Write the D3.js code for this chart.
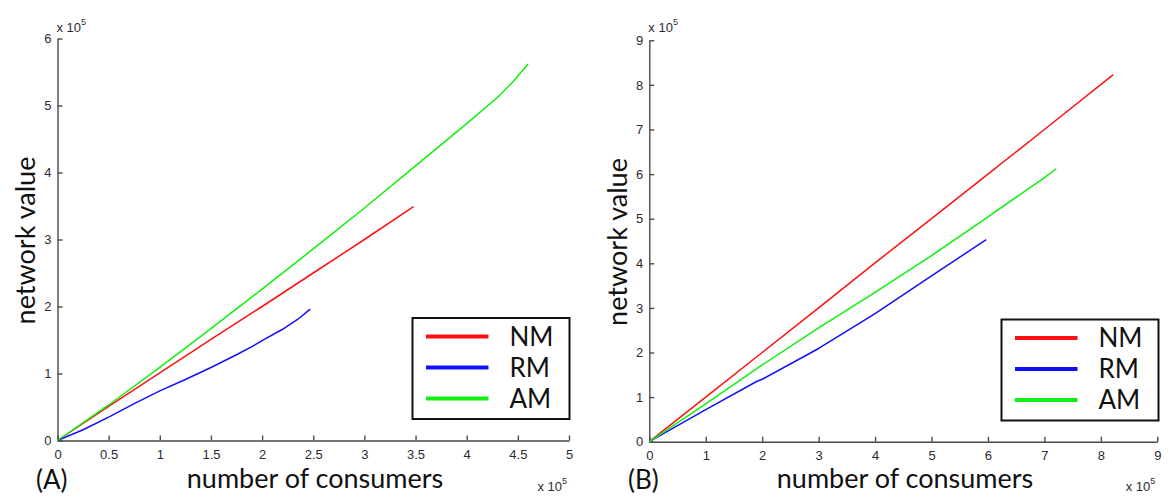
<!DOCTYPE html>
<html>
<head>
<meta charset="utf-8">
<script src="https://cdn.jsdelivr.net/npm/d3@7"></script>
<style>
  body { margin: 0; background: #fff; }
  .tick text { font-family: "Liberation Sans", Arial, sans-serif; font-size: 13px; fill: #2a2a33; }
  .axis path, .axis line { stroke: #4a4a4a; stroke-width: 1.4; }
  .lbl { font-family: Lato, "Open Sans", sans-serif; fill: #111; }
  .mult { font-family: "Liberation Sans", Arial, sans-serif; fill: #2a2a33; }
</style>
</head>
<body>
<svg id="chart" width="1173" height="498"></svg>
<script>
// values are in units of 10^5 (see the "x 10^5" labels)
var seriesNames = ["NM", "RM", "AM"]
var seriesColors = ["#ff1010", "#1010ff", "#10f010"]

// panel (A)
var xTicksA = [0, 0.5, 1, 1.5, 2, 2.5, 3, 3.5, 4, 4.5, 5]
var yTicksA = [0, 1, 2, 3, 4, 5, 6]
var nmA_x = [0, 0.5, 1, 1.5, 2, 2.5, 3, 3.48]
var nmA_y = [0, 0.51, 1.01, 1.51, 2.0, 2.5, 3.0, 3.49]
var rmA_x = [0, 0.25, 0.5, 0.75, 1.0, 1.25, 1.5, 1.75, 1.9, 2.0, 2.2, 2.35, 2.47]
var rmA_y = [0, 0.16, 0.35, 0.55, 0.74, 0.91, 1.09, 1.28, 1.40, 1.49, 1.66, 1.81, 1.96]
var amA_x = [0, 0.5, 1, 1.5, 2, 2.5, 3, 3.5, 4, 4.3, 4.45, 4.6]
var amA_y = [0, 0.53, 1.09, 1.67, 2.26, 2.86, 3.47, 4.1, 4.73, 5.12, 5.35, 5.62]

// panel (B)
var xTicksB = [0, 1, 2, 3, 4, 5, 6, 7, 8, 9]
var yTicksB = [0, 1, 2, 3, 4, 5, 6, 7, 8, 9]
var nmB_x = [0, 1, 2, 3, 4, 5, 6, 7, 8.22]
var nmB_y = [0, 1.0, 2.0, 3.0, 4.01, 5.0, 6.0, 7.0, 8.23]
var rmB_x = [0, 1, 1.9, 2, 3, 4, 5, 5.97]
var rmB_y = [0, 0.72, 1.35, 1.40, 2.09, 2.87, 3.72, 4.53]
var amB_x = [0, 1, 2, 3, 4, 5, 6, 7, 7.21]
var amB_y = [0, 0.85, 1.72, 2.55, 3.35, 4.17, 5.04, 5.92, 6.12]

function zip(xs, ys) {
  return xs.map(function(x, i) { return {x: x, y: ys[i]} })
}

var svg = d3.select("#chart")

function drawPanel(p) {
  var x = d3.scaleLinear().domain([0, p.xMax]).range([p.left, p.right])
  var y = d3.scaleLinear().domain([0, p.yMax]).range([p.bottom, p.top])
  var g = svg.append("g")

  g.append("g")
    .attr("class", "axis")
    .attr("transform", "translate(0," + p.bottom + ")")
    .call(d3.axisBottom(x).tickValues(p.xTicks).tickFormat(d3.format("")).tickSizeInner(-5).tickSizeOuter(0).tickPadding(9))

  g.append("g")
    .attr("class", "axis")
    .attr("transform", "translate(" + p.left + ",0)")
    .call(d3.axisLeft(y).tickValues(p.yTicks).tickFormat(d3.format("")).tickSizeInner(-5).tickSizeOuter(0).tickPadding(6))

  var line = d3.line()
    .x(function(d) { return x(d.x) })
    .y(function(d) { return y(d.y) })

  p.series.forEach(function(s, i) {
    g.append("path")
      .datum(s)
      .attr("fill", "none")
      .attr("stroke", seriesColors[i])
      .attr("stroke-width", 1.5)
      .attr("stroke-linejoin", "round")
      .attr("d", line)
  })

  // x 10^5 multipliers
  var m1 = g.append("text").attr("class", "mult").attr("x", p.left - 1).attr("y", 32).style("font-size", "13px")
  m1.append("tspan").text("x 10")
  m1.append("tspan").attr("dy", -7).style("font-size", "9px").text("5")
  var m2 = g.append("text").attr("class", "mult").attr("x", p.right - 2).attr("y", 491)
    .style("font-size", "13px").style("text-anchor", "end")
  m2.append("tspan").text("x 10")
  m2.append("tspan").attr("dy", -7).style("font-size", "9px").text("5")

  // axis titles
  g.append("text")
    .attr("class", "lbl")
    .attr("transform", "translate(" + p.yLabelX + "," + ((p.top + p.bottom) / 2 + 1) + ") rotate(-90)")
    .style("text-anchor", "middle")
    .style("font-size", "27px")
    .text("network value")

  g.append("text")
    .attr("class", "lbl")
    .attr("x", p.xLabelX)
    .attr("y", 488)
    .style("text-anchor", "middle")
    .style("font-size", "27px")
    .text("number of consumers")

  g.append("text")
    .attr("class", "lbl")
    .attr("x", p.tagX)
    .attr("y", 489)
    .style("font-size", "26px")
    .text(p.tag)

  // legend
  var lg = p.legend
  g.append("rect")
    .attr("x", lg.x).attr("y", lg.y)
    .attr("width", lg.w).attr("height", lg.h)
    .attr("fill", "#fff")
    .attr("stroke", "#111")
    .attr("stroke-width", 2)

  seriesNames.forEach(function(name, i) {
    var ly = lg.y + 18.5 + i * 31
    g.append("line")
      .attr("x1", lg.x + 13.5).attr("x2", lg.x + 76)
      .attr("y1", ly).attr("y2", ly)
      .attr("stroke", seriesColors[i])
      .attr("stroke-width", 4)
    g.append("text")
      .attr("class", "lbl")
      .attr("x", lg.x + 97)
      .attr("y", ly)
      .attr("dy", "0.36em")
      .style("font-size", "26px")
      .text(name)
  })
}

drawPanel({
  xMax: 5, yMax: 6, xTicks: xTicksA, yTicks: yTicksA,
  left: 57.5, right: 569, top: 38.5, bottom: 440.5,
  series: [zip(nmA_x, nmA_y), zip(rmA_x, rmA_y), zip(amA_x, amA_y)],
  yLabelX: 35, xLabelX: 315, tagX: 36, tag: "(A)",
  legend: {x: 412.5, y: 318, w: 157, h: 101}
})

drawPanel({
  xMax: 9, yMax: 9, xTicks: xTicksB, yTicks: yTicksB,
  left: 649.3, right: 1157.3, top: 40.3, bottom: 441.7,
  series: [zip(nmB_x, nmB_y), zip(rmB_x, rmB_y), zip(amB_x, amB_y)],
  yLabelX: 627, xLabelX: 905, tagX: 628, tag: "(B)",
  legend: {x: 1001.5, y: 319.5, w: 157, h: 101}
})
</script>
</body>
</html>
